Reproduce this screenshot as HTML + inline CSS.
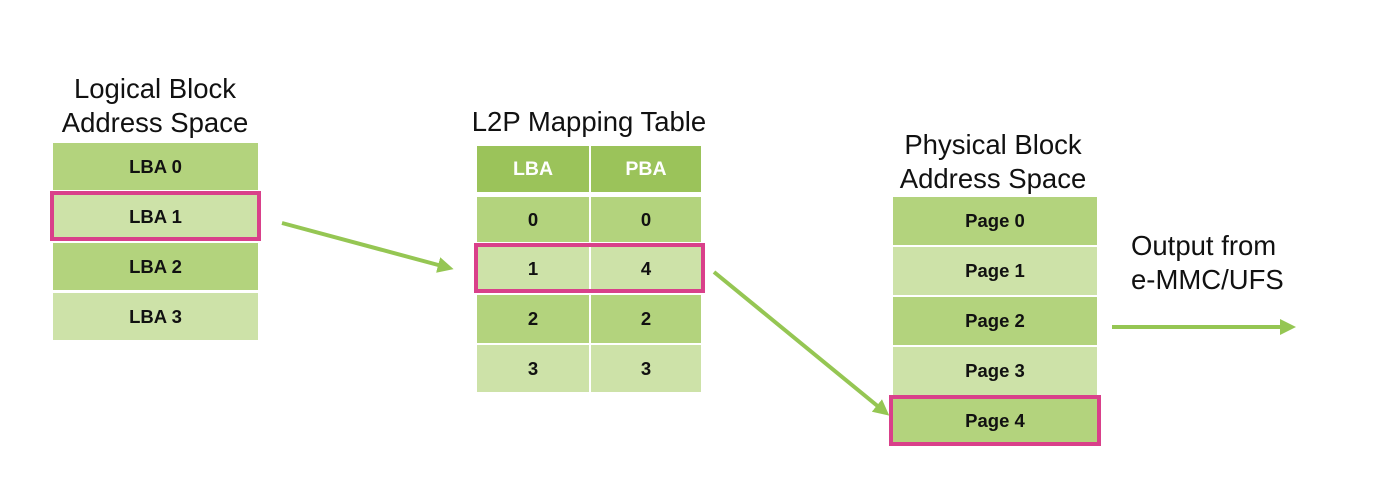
<!DOCTYPE html>
<html><head><meta charset="utf-8"><style>
body{margin:0;width:1390px;height:490px;background:#fff;position:relative;overflow:hidden;font-family:"Liberation Sans",Arial,sans-serif}
.t{position:absolute;font-size:27.5px;color:#111;text-align:center;line-height:34px;white-space:nowrap}
.c{position:absolute;display:flex;align-items:center;justify-content:center;font-weight:bold;font-size:18.5px;color:#111}
.d{background:#b3d37d}.l{background:#cde2a8}.h{background:#9bc35a;color:#fff;font-size:19.5px}
.hl{position:absolute;border:4px solid #d9408a;box-sizing:border-box}
</style></head><body>
<div class="t" style="left:35px;top:72px;width:240px">Logical Block<br>Address Space</div>
<div class="c d" style="left:53px;top:143px;width:205px;height:47px">LBA 0</div>
<div class="c l" style="left:53px;top:193px;width:205px;height:47px">LBA 1</div>
<div class="c d" style="left:53px;top:243px;width:205px;height:47px">LBA 2</div>
<div class="c l" style="left:53px;top:293px;width:205px;height:47px">LBA 3</div>
<div class="hl" style="left:50px;top:191px;width:211px;height:50px"></div>

<div class="t" style="left:449px;top:105px;width:280px">L2P Mapping Table</div>
<div class="c h" style="left:477px;top:146px;width:112px;height:46px">LBA</div>
<div class="c h" style="left:591px;top:146px;width:110px;height:46px">PBA</div>
<div class="c d" style="left:477px;top:197px;width:112px;height:45px">0</div>
<div class="c d" style="left:591px;top:197px;width:110px;height:45px">0</div>
<div class="c l" style="left:477px;top:245px;width:112px;height:47px">1</div>
<div class="c l" style="left:591px;top:245px;width:110px;height:47px">4</div>
<div class="c d" style="left:477px;top:295px;width:112px;height:48px">2</div>
<div class="c d" style="left:591px;top:295px;width:110px;height:48px">2</div>
<div class="c l" style="left:477px;top:345px;width:112px;height:47px">3</div>
<div class="c l" style="left:591px;top:345px;width:110px;height:47px">3</div>
<div class="hl" style="left:474px;top:243px;width:231px;height:50px"></div>

<div class="t" style="left:873px;top:128px;width:240px">Physical Block<br>Address Space</div>
<div class="c d" style="left:893px;top:197px;width:204px;height:48px">Page 0</div>
<div class="c l" style="left:893px;top:247px;width:204px;height:48px">Page 1</div>
<div class="c d" style="left:893px;top:297px;width:204px;height:48px">Page 2</div>
<div class="c l" style="left:893px;top:347px;width:204px;height:48px">Page 3</div>
<div class="c d" style="left:893px;top:397px;width:204px;height:47px">Page 4</div>
<div class="hl" style="left:889px;top:395px;width:212px;height:51px"></div>

<div class="t" style="left:1131px;top:229px;text-align:left">Output from<br>e-MMC/UFS</div>

<svg width="1390" height="490" style="position:absolute;left:0;top:0">
<defs><marker id="ah" markerWidth="4" markerHeight="4" refX="1" refY="2" orient="auto" markerUnits="strokeWidth"><path d="M0,0 L4,2 L0,4 z" fill="#95c653"/></marker></defs>
<line x1="282" y1="223" x2="442" y2="266" stroke="#95c653" stroke-width="4" marker-end="url(#ah)"/>
<line x1="714" y1="272" x2="880" y2="408" stroke="#95c653" stroke-width="4" marker-end="url(#ah)"/>
<line x1="1112" y1="327" x2="1284" y2="327" stroke="#95c653" stroke-width="4" marker-end="url(#ah)"/>
</svg>
</body></html>
